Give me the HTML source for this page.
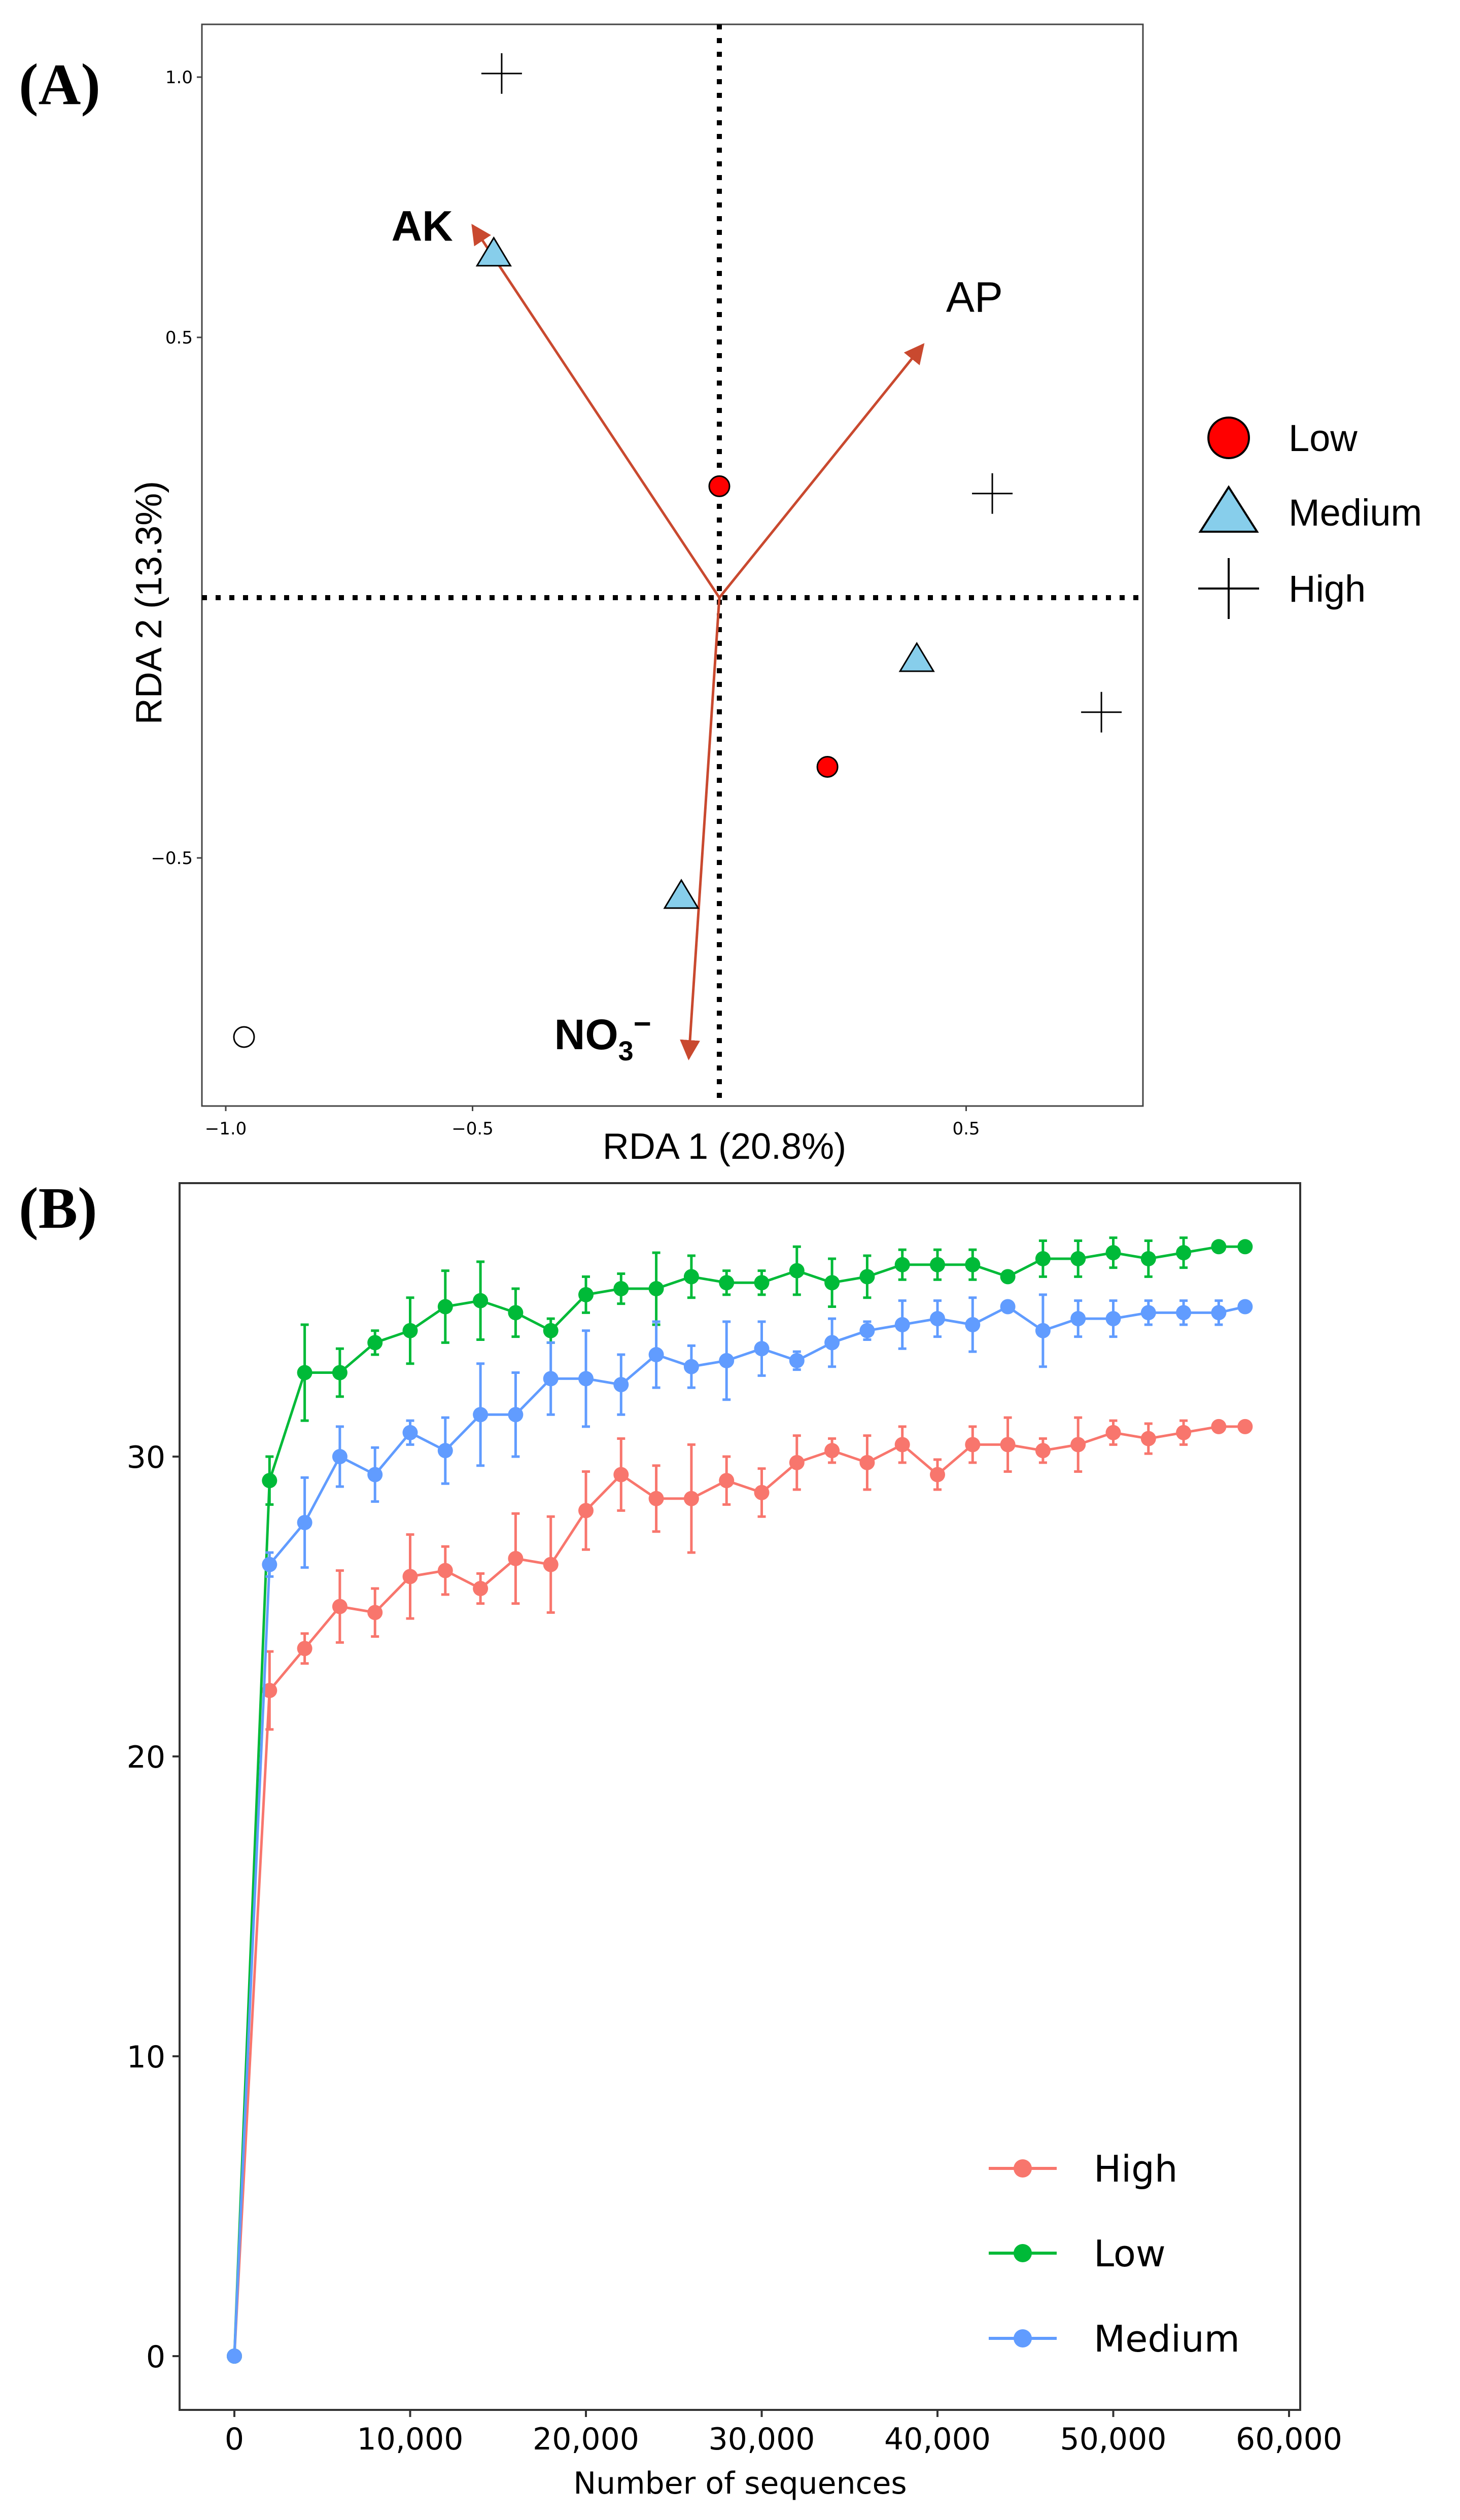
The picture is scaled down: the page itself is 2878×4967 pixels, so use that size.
<!DOCTYPE html>
<html><head><meta charset="utf-8"><style>
html,body{margin:0;padding:0;background:#fff;}
svg{display:block;font-family:"Liberation Sans","DejaVu Sans",sans-serif;}
</style></head><body>
<svg id="fig" width="2878" height="4967" viewBox="0 0 2878 4967" xmlns="http://www.w3.org/2000/svg">
<g id="panelA"></g>
<g id="panelB"></g>
</svg>
<script>
// ---------- Panel A data ----------
const rdaX = [-0.441, 0.553, 0.774, -0.457, 0.40, -0.077, 0.0, 0.219, -0.963];
const rdaY = [1.007, 0.20, -0.22, 0.662, -0.117, -0.572, 0.214, -0.325, -0.844];
const rdaGroup = ['High','High','High','Medium','Medium','Medium','Low','Low','Open'];
const arrowNames = ['AK','AP','NO3'];
const arrowX = [-0.50, 0.413, -0.062];
const arrowY = [0.715, 0.486, -0.885];
const aTicksX = [-1.0, -0.5, 0.5];
const aTicksY = [1.0, 0.5, -0.5];
const aTickLabelsX = ['\u22121.0','\u22120.5','0.5'];
const aTickLabelsY = ['1.0','0.5','\u22120.5'];

// ---------- Panel B data ----------
const seqX = [0,2000,4000,6000,8000,10000,12000,14000,16000,18000,20000,22000,24000,26000,28000,30000,32000,34000,36000,38000,40000,42000,44000,46000,48000,50000,52000,54000,56000,57500];
const highY = [0,22.2,23.6,25.0,24.8,26.0,26.2,25.6,26.6,26.4,28.2,29.4,28.6,28.6,29.2,28.8,29.8,30.2,29.8,30.4,29.4,30.4,30.4,30.2,30.4,30.8,30.6,30.8,31.0,31.0];
const highErr = [0,1.3,0.5,1.2,0.8,1.4,0.8,0.5,1.5,1.6,1.3,1.2,1.1,1.8,0.8,0.8,0.9,0.4,0.9,0.6,0.5,0.6,0.9,0.4,0.9,0.4,0.5,0.4,0,0];
const lowY = [0,29.2,32.8,32.8,33.8,34.2,35.0,35.2,34.8,34.2,35.4,35.6,35.6,36.0,35.8,35.8,36.2,35.8,36.0,36.4,36.4,36.4,36.0,36.6,36.6,36.8,36.6,36.8,37.0,37.0];
const lowErr = [0,0.8,1.6,0.8,0.4,1.1,1.2,1.3,0.8,0.4,0.6,0.5,1.2,0.7,0.4,0.4,0.8,0.8,0.7,0.5,0.5,0.5,0,0.6,0.6,0.5,0.6,0.5,0,0];
const medY = [0,26.4,27.8,30.0,29.4,30.8,30.2,31.4,31.4,32.6,32.6,32.4,33.4,33.0,33.2,33.6,33.2,33.8,34.2,34.4,34.6,34.4,35.0,34.2,34.6,34.6,34.8,34.8,34.8,35.0];
const medErr = [0,0.4,1.5,1.0,0.9,0.4,1.1,1.7,1.4,1.2,1.6,1.0,1.1,0.7,1.3,0.9,0.3,0.8,0.3,0.8,0.6,0.9,0,1.2,0.6,0.6,0.4,0.4,0.4,0];
const bTicksX = [0,10000,20000,30000,40000,50000,60000];
const bTickLabelsX = ['0','10,000','20,000','30,000','40,000','50,000','60,000'];
const bTicksY = [0,10,20,30];
const bTickLabelsY = ['0','10','20','30'];
const seriesNames = ['High','Low','Medium'];

const NS='http://www.w3.org/2000/svg';
const SERIF='font-family:"Liberation Serif",serif;font-weight:bold';
const DJ='font-family:"DejaVu Sans",sans-serif';
function mk(parent, tag, attrs, txt){
  const e=document.createElementNS(NS,tag);
  for(const k in attrs) e.setAttribute(k,attrs[k]);
  if(txt!==undefined) e.textContent=txt;
  parent.appendChild(e); return e;
}

// ===== Panel A =====
const A=document.getElementById('panelA');
const ax=v=>1418+v*973;
const ay=v=>1178-v*1026;
let t;
t=mk(A,'text',{x:37,y:205,'font-size':116,style:SERIF},'(A)');


t=mk(A,'rect',{x:398,y:48,width:1855,height:2132,fill:'none',stroke:'#444','stroke-width':3});


t=mk(A,'line',{x1:ax(0),y1:48,x2:ax(0),y2:2180,stroke:'#000','stroke-width':10,'stroke-dasharray':'10,17'});


t=mk(A,'line',{x1:398,y1:ay(0),x2:2253,y2:ay(0),stroke:'#000','stroke-width':10,'stroke-dasharray':'10,17'});


aTicksX.forEach((v,i)=>{
  mk(A,'line',{x1:ax(v),y1:2180,x2:ax(v),y2:2190,stroke:'#444','stroke-width':3});
  const e=mk(A,'text',{x:ax(v),y:2236,'font-size':34,'text-anchor':'middle',style:DJ},aTickLabelsX[i]);
  
  
});
aTicksY.forEach((v,i)=>{
  mk(A,'line',{x1:388,y1:ay(v),x2:398,y2:ay(v),stroke:'#444','stroke-width':3});
  const e=mk(A,'text',{x:380,y:ay(v)+12,'font-size':34,'text-anchor':'end',style:DJ},aTickLabelsY[i]);
  
  
});
t=mk(A,'text',{x:1428,y:2284,'font-size':72,'text-anchor':'middle'},'RDA 1 (20.8%)');


t=mk(A,'text',{x:0,y:0,'font-size':72,'text-anchor':'middle',transform:'translate(318,1188) rotate(-90)'},'RDA 2 (13.3%)');


// arrows
const defs=mk(A,'defs',{});
const mkr=mk(defs,'marker',{id:'ah',viewBox:'0 0 10 10',refX:9,refY:5,markerWidth:8,markerHeight:8,orient:'auto',markerUnits:'strokeWidth'});
mk(mkr,'path',{d:'M0,0 L10,5 L0,10 z',fill:'#c9492f'});
arrowNames.forEach((n,i)=>{
  const e=mk(A,'line',{x1:ax(0),y1:ay(0),x2:ax(arrowX[i]),y2:ay(arrowY[i]),stroke:'#c9492f','stroke-width':5,'marker-end':'url(#ah)'});
  
  
});
t=mk(A,'text',{x:ax(arrowX[0])-160,y:ay(arrowY[0])+30,'font-size':84,'font-weight':'bold'},'AK');


t=mk(A,'text',{x:ax(arrowX[1])+45,y:ay(arrowY[1])-65,'font-size':84},'AP');


t=mk(A,'text',{x:ax(arrowX[2])-265,y:ay(arrowY[2])-18,'font-size':84,'font-weight':'bold'});


t.innerHTML='NO<tspan font-size="54" dy="22">3</tspan><tspan font-size="60" dy="-52">\u2212</tspan>';
// points
function drawSym(p,g,cx,cy){
  let e;
  if(g==='High'){
    e=mk(p,'path',{d:`M${cx-40},${cy}H${cx+40}M${cx},${cy-40}V${cy+40}`,stroke:'#000','stroke-width':3,fill:'none'});
  } else if(g==='Medium'){
    e=mk(p,'path',{d:`M${cx},${cy-30}L${cx+33},${cy+25}L${cx-33},${cy+25}Z`,fill:'#87ceeb',stroke:'#000','stroke-width':3});
  } else if(g==='Low'){
    e=mk(p,'circle',{cx:cx,cy:cy,r:20,fill:'#ff0000',stroke:'#000','stroke-width':3});
  } else {
    e=mk(p,'circle',{cx:cx,cy:cy,r:20,fill:'#fff',stroke:'#000','stroke-width':3});
  }
  return e;
}
rdaX.forEach((v,i)=>{
  const e=drawSym(A,rdaGroup[i],ax(v),ay(rdaY[i]));
  
  
});
// legend A
const legA=mk(A,'g',{});


[['Low',863],['Medium',1010],['High',1160]].forEach(([n,y])=>{
  const g=mk(legA,'g',{});
  
  
  if(n==='Low') mk(g,'circle',{cx:2422,cy:y,r:40,fill:'#ff0000',stroke:'#000','stroke-width':4});
  if(n==='Medium') mk(g,'path',{d:`M2422,${y-50}L2478,${y+38}L2366,${y+38}Z`,fill:'#87ceeb',stroke:'#000','stroke-width':4});
  if(n==='High') mk(g,'path',{d:`M2362,${y}H2482M2422,${y-60}V${y+60}`,stroke:'#000','stroke-width':4});
  mk(g,'text',{x:2540,y:y+26,'font-size':74},n);
});

// ===== Panel B =====
const B=document.getElementById('panelB');
const bx=v=>462+v*(2541-462)/60000;
const by=v=>4644-v*59.1;
t=mk(B,'text',{x:37,y:2420,'font-size':116,style:SERIF},'(B)');


t=mk(B,'rect',{x:354,y:2332,width:2209,height:2418,fill:'none',stroke:'#333','stroke-width':4});


bTicksX.forEach((v,i)=>{
  mk(B,'line',{x1:bx(v),y1:4750,x2:bx(v),y2:4764,stroke:'#333','stroke-width':4});
  const e=mk(B,'text',{x:bx(v),y:4828,'font-size':60,'text-anchor':'middle',style:DJ},bTickLabelsX[i]);
  
  
});
bTicksY.forEach((v,i)=>{
  mk(B,'line',{x1:340,y1:by(v),x2:354,y2:by(v),stroke:'#333','stroke-width':4});
  const e=mk(B,'text',{x:326,y:by(v)+22,'font-size':60,'text-anchor':'end',style:DJ},bTickLabelsY[i]);
  
  
});
t=mk(B,'text',{x:1459,y:4915,'font-size':60,'text-anchor':'middle',style:DJ},'Number of sequences');


const seriesY=[highY,lowY,medY];
const seriesErr=[highErr,lowErr,medErr];
const colors=['#f8766d','#00ba38','#619cff'];
[0,1,2].forEach(si=>{
  const g=mk(B,'g',{});
  
  
  const c=colors[si];
  seqX.forEach((x,i)=>{
    const err=seriesErr[si][i];
    if(err>0){
      const y0=by(seriesY[si][i]-err), y1=by(seriesY[si][i]+err), cx=bx(x);
      const e=mk(g,'path',{d:`M${cx},${y0}V${y1}M${cx-8},${y0}H${cx+8}M${cx-8},${y1}H${cx+8}`,stroke:c,'stroke-width':5,fill:'none'});
      
      
    }
  });
  const pts=seqX.map((x,i)=>bx(x)+','+by(seriesY[si][i])).join(' ');
  const pl=mk(g,'polyline',{points:pts,fill:'none',stroke:c,'stroke-width':5,'stroke-linejoin':'round'});
  
  
  seqX.forEach((x,i)=>{
    const p=mk(g,'circle',{cx:bx(x),cy:by(seriesY[si][i]),r:15,fill:c});
    
    
  });
});
const legB=mk(B,'g',{});


[4274,4441,4609].forEach((y,i)=>{
  const g=mk(legB,'g',{});
  
  
  mk(g,'line',{x1:1949,y1:y,x2:2083,y2:y,stroke:colors[i],'stroke-width':6});
  mk(g,'circle',{cx:2016,cy:y,r:18,fill:colors[i]});
  mk(g,'text',{x:2156,y:y+26,'font-size':72,style:DJ},seriesNames[i]);
});
</script>
</body></html>
